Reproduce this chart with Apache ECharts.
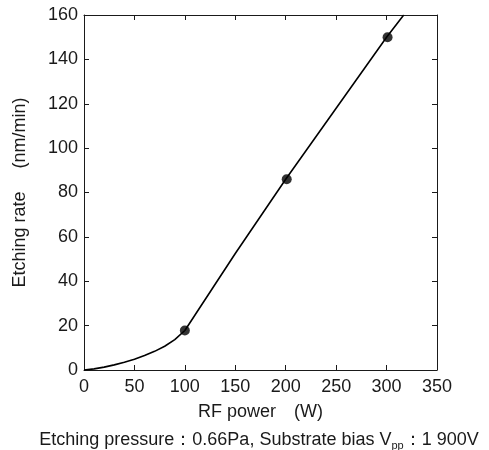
<!DOCTYPE html>
<html>
<head>
<meta charset="utf-8">
<script src="https://cdn.jsdelivr.net/npm/echarts@6/dist/echarts.min.js"></script>
<style>
html,body{margin:0;padding:0;background:#fff;}
#chart{width:489px;height:450px;}
</style>
</head>
<body>
<div id="chart"></div>
<script>
// Data
var curveX = [0, 10, 20, 30, 40, 50, 60, 70, 80, 90, 100];
var curveY = [0, 0.5, 1.3, 2.3, 3.5, 4.8, 6.5, 8.4, 10.7, 13.7, 17.8];
var lineX = [100, 150, 200, 250, 300, 317];
var lineY = [17.8, 52.5, 86, 118, 150, 160];
var pointX = [100, 201, 301];
var pointY = [17.8, 86, 150];
var xTicks = [0, 50, 100, 150, 200, 250, 300, 350];
var yTicks = [0, 20, 40, 60, 80, 100, 120, 140, 160];

var FONT = 'Liberation Sans';
var INK = '#1a1a1a';

function pairs(xs, ys){ return xs.map(function(x,i){ return [x, ys[i]]; }); }

var chart = echarts.init(document.getElementById('chart'), null, {renderer:'canvas'});
var axisBase = {
  axisLine:{show:true, onZero:false, lineStyle:{color:INK, width:1}},
  axisTick:{show:true, inside:true, length:5, lineStyle:{color:INK, width:1}},
  splitLine:{show:false}
};
chart.setOption({
  animation:false,
  backgroundColor:'#fff',
  grid:{left:84, right:52, top:15, bottom:80, containLabel:false},
  title:{
    text:'Etching pressure：0.66Pa, Substrate bias V{s|pp}：1 900V',
    left:259, textAlign:'center', top:429, padding:0,
    textStyle:{
      fontFamily:FONT, fontSize:18, fontWeight:'normal', color:INK, lineHeight:22,
      rich:{ s:{fontFamily:FONT, fontSize:11, color:INK, lineHeight:22, verticalAlign:'bottom', padding:[6,0,0,0]} }
    }
  },
  xAxis:[
    Object.assign({}, axisBase, {
      type:'value', min:0, max:350, interval:50, position:'bottom',
      name:'RF power　(W)', nameLocation:'middle', nameGap:33,
      nameTextStyle:{fontFamily:FONT, fontSize:18, color:INK},
      axisLabel:{fontFamily:FONT, fontSize:18, color:INK, margin:8,
        formatter:function(v){ return xTicks.indexOf(v) >= 0 ? String(v) : ''; }}
    }),
    Object.assign({}, axisBase, {
      type:'value', min:0, max:350, interval:50, position:'top',
      axisLabel:{show:false}
    })
  ],
  yAxis:[
    Object.assign({}, axisBase, {
      type:'value', min:0, max:160, interval:20, position:'left',
      name:'Etching rate　 (nm/min)', nameLocation:'middle', nameGap:55, nameRotate:90,
      nameTextStyle:{fontFamily:FONT, fontSize:18, color:INK},
      axisLabel:{fontFamily:FONT, fontSize:18, color:INK, margin:6,
        formatter:function(v){ return yTicks.indexOf(v) >= 0 ? String(v) : ''; }}
    }),
    Object.assign({}, axisBase, {
      type:'value', min:0, max:160, interval:20, position:'right',
      axisLabel:{show:false}
    })
  ],
  series:[
    {type:'line', data:pairs(curveX, curveY), smooth:false, showSymbol:false,
     lineStyle:{color:'#000', width:1.6}, clip:true},
    {type:'line', data:pairs(lineX, lineY), smooth:false, showSymbol:false,
     lineStyle:{color:'#000', width:1.6}, clip:true},
    {type:'scatter', data:pairs(pointX, pointY), symbol:'circle', symbolSize:10,
     itemStyle:{color:'#000'}, z:5}
  ]
});
</script>
</body>
</html>
